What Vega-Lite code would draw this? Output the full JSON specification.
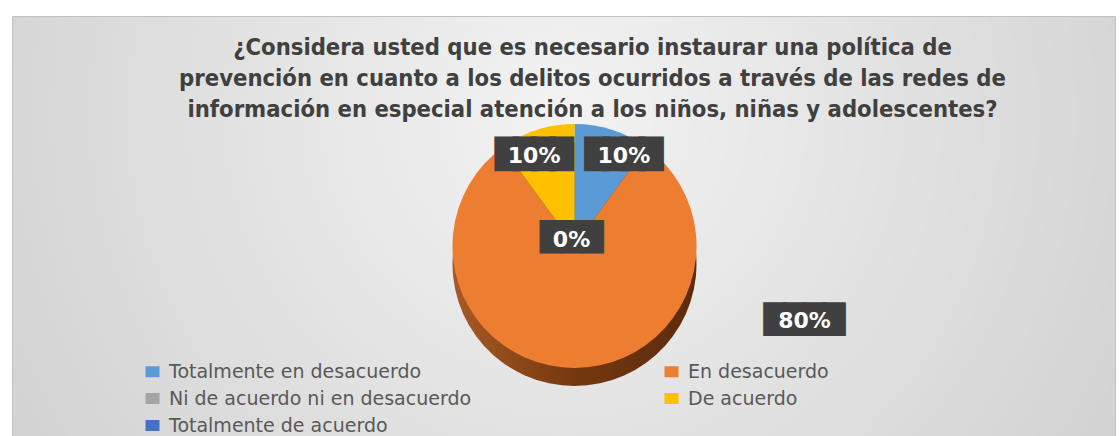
{
  "$schema": "https://vega.github.io/schema/vega-lite/v6.json",
  "width": 1120,
  "height": 436,
  "autosize": {"type": "fit", "contains": "padding"},
  "padding": {"top": 13, "left": 9, "right": 5, "bottom": 0},
  "background": "white",
  "view": {
    "fill": {"gradient": "radial", "x1": 0.5, "y1": 0.4, "r1": 0, "x2": 0.5, "y2": 0.4, "r2": 0.75,
      "stops": [{"offset": 0, "color": "#f3f3f3"}, {"offset": 1, "color": "#c8c8c8"}]},
    "stroke": "#c2c2c2",
    "strokeWidth": 1
  },
  "title": {
    "text": [
      "¿Considera usted que es necesario instaurar una política de",
      "prevención en cuanto a los delitos ocurridos a través de las redes de",
      "información en especial atención a los niños, niñas y adolescentes?"
    ],
    "font": "Liberation Sans Narrow, DejaVu Sans Condensed, sans-serif",
    "fontSize": 23.6,
    "fontWeight": "bold",
    "color": "#404040",
    "anchor": "middle",
    "frame": "group",
    "baseline": "top",
    "offset": -108,
    "lineHeight": 31,
    "dx": 29
  },
  "data": {
    "values": [
      {"categoria": "Totalmente en desacuerdo", "valor": 0.10, "orden": 1},
      {"categoria": "En desacuerdo", "valor": 0.80, "orden": 2},
      {"categoria": "Ni de acuerdo ni en desacuerdo", "valor": 0.00, "orden": 3},
      {"categoria": "De acuerdo", "valor": 0.10, "orden": 4},
      {"categoria": "Totalmente de acuerdo", "valor": 0.00, "orden": 5}
    ]
  },
  "layer": [
    {
      "mark": {"type": "point", "opacity": 0},
      "encoding": {
        "x": {"datum": 0, "type": "quantitative", "axis": null},
        "y": {"datum": 0, "type": "quantitative", "axis": null}
      }
    },
    {
      "mark": {"type": "arc", "radius": 122, "xOffset": 11, "yOffset": 38,
        "fill": {"gradient": "linear", "x1": 0, "y1": 0, "x2": 1, "y2": 0,
          "stops": [{"offset": 0, "color": "#a85a25"}, {"offset": 0.5, "color": "#74380f"}, {"offset": 1, "color": "#5c2b0c"}]}},
      "encoding": {
        "theta": {"field": "valor", "type": "quantitative", "stack": true},
        "order": {"field": "orden", "type": "quantitative"}
      }
    },
    {
      "mark": {"type": "arc", "radius": 122, "xOffset": 11, "yOffset": 20},
      "encoding": {
        "theta": {"field": "valor", "type": "quantitative", "stack": true},
        "order": {"field": "orden", "type": "quantitative"},
        "color": {
          "field": "categoria",
          "type": "nominal",
          "scale": {
            "domain": ["Totalmente en desacuerdo", "En desacuerdo", "Ni de acuerdo ni en desacuerdo", "De acuerdo", "Totalmente de acuerdo"],
            "range": ["#5b9bd5", "#ed7d31", "#a5a5a5", "#ffc000", "#4472c4"]
          },
          "legend": {
            "orient": "none",
            "legendX": 131,
            "legendY": 346,
            "direction": "horizontal",
            "columns": 2,
            "columnPadding": 190,
            "rowPadding": 7,
            "symbolType": "M-1,-0.786H1V0.786H-1Z",
            "symbolSize": 196,
            "symbolStrokeWidth": 0,
            "labelFont": "DejaVu Sans",
            "labelFontSize": 19,
            "labelColor": "#595959",
            "labelOffset": 7,
            "labelLimit": 0,
            "title": null
          }
        }
      }
    },
    {
      "encoding": {
        "theta": {"field": "valor", "type": "quantitative", "stack": true},
        "order": {"field": "orden", "type": "quantitative"}
      },
      "layer": [
        {"mark": {"type": "text", "radius": 95, "xOffset": 11, "yOffset": 20, "dx": 20, "dy": -1, "font": "DejaVu Sans", "fontSize": 23.6, "fill": "#404040", "stroke": "#404040", "strokeWidth": 6.7, "strokeJoin": "miter", "align": "center", "baseline": "middle"},
          "encoding": {"text": {"condition": {"test": "datum.categoria === 'Totalmente en desacuerdo'", "value": "████"}, "value": ""}}},
        {"mark": {"type": "text", "radius": 95, "xOffset": 11, "yOffset": 20, "dx": 20, "font": "DejaVu Sans", "fontWeight": "bold", "fontSize": 22, "fill": "white", "align": "center", "baseline": "middle"},
          "encoding": {"text": {"condition": {"test": "datum.categoria === 'Totalmente en desacuerdo'", "field": "valor", "format": ".0%"}, "value": ""}}},
        {"mark": {"type": "text", "radius": 95, "xOffset": 11, "yOffset": 20, "dx": -11, "dy": -1, "font": "DejaVu Sans", "fontSize": 23.6, "fill": "#404040", "stroke": "#404040", "strokeWidth": 6.7, "strokeJoin": "miter", "align": "center", "baseline": "middle"},
          "encoding": {"text": {"condition": {"test": "datum.categoria === 'De acuerdo'", "value": "████"}, "value": ""}}},
        {"mark": {"type": "text", "radius": 95, "xOffset": 11, "yOffset": 20, "dx": -11, "font": "DejaVu Sans", "fontWeight": "bold", "fontSize": 22, "fill": "white", "align": "center", "baseline": "middle"},
          "encoding": {"text": {"condition": {"test": "datum.categoria === 'De acuerdo'", "field": "valor", "format": ".0%"}, "value": ""}}},
        {"mark": {"type": "text", "radius": 0, "xOffset": 11, "yOffset": 20, "dx": -3, "dy": -8, "font": "DejaVu Sans", "fontSize": 27.3, "fill": "#404040", "stroke": "#404040", "strokeWidth": 1, "strokeJoin": "miter", "align": "center", "baseline": "middle"},
          "encoding": {"text": {"condition": {"test": "datum.categoria === 'Ni de acuerdo ni en desacuerdo'", "value": "███"}, "value": ""}}},
        {"mark": {"type": "text", "radius": 0, "xOffset": 11, "yOffset": 20, "dx": -3, "dy": -6, "font": "DejaVu Sans", "fontWeight": "bold", "fontSize": 22, "fill": "white", "align": "center", "baseline": "middle"},
          "encoding": {"text": {"condition": {"test": "datum.categoria === 'Ni de acuerdo ni en desacuerdo'", "field": "valor", "format": ".0%"}, "value": ""}}},
        {"mark": {"type": "text", "radius": 75, "xOffset": 11, "yOffset": 20, "dx": 230, "dy": -1, "font": "DejaVu Sans", "fontSize": 25.7, "fill": "#404040", "stroke": "#404040", "strokeWidth": 3.2, "strokeJoin": "miter", "align": "center", "baseline": "middle"},
          "encoding": {"text": {"condition": {"test": "datum.categoria === 'En desacuerdo'", "value": "████"}, "value": ""}}},
        {"mark": {"type": "text", "radius": 75, "xOffset": 11, "yOffset": 20, "dx": 230, "font": "DejaVu Sans", "fontWeight": "bold", "fontSize": 22, "fill": "white", "align": "center", "baseline": "middle"},
          "encoding": {"text": {"condition": {"test": "datum.categoria === 'En desacuerdo'", "field": "valor", "format": ".0%"}, "value": ""}}}
      ]
    }
  ]
}
